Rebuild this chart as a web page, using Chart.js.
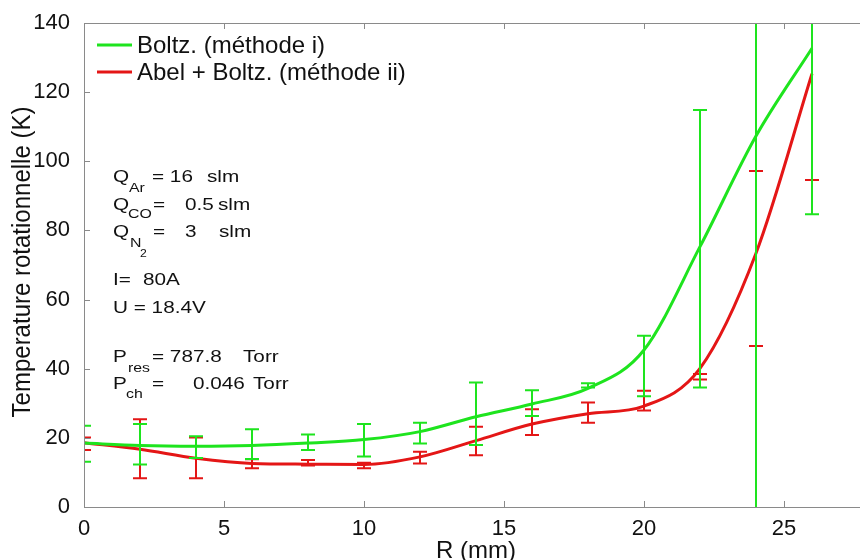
<!DOCTYPE html>
<html>
<head>
<meta charset="utf-8">
<script src="https://cdn.jsdelivr.net/npm/chart.js@4.4.1/dist/chart.umd.min.js"></script>
<style>
  html, body { margin: 0; padding: 0; background: #fff; overflow: hidden; }
  #wrap { width: 860px; height: 560px; overflow: hidden; }
</style>
</head>
<body>
<div id="wrap"><canvas id="tempChart" width="880" height="560"></canvas></div>
<script>
// R (mm)
const radius = [0, 2, 4, 6, 8, 10, 12, 14, 16, 18, 20, 22, 24, 26];

// Boltz. (méthode i)
const boltzT    = [18.5, 17.8, 17.6, 17.8, 18.5, 19.5, 21.8, 26.1, 29.8, 34.3, 45.4, 75.3, 107.3, 132.7];
const boltzLow  = [13.1, 12.3, 14.2, 13.9, 16.5, 14.6, 18.4, 17.9, 26.3, 34.6, 32.0, 34.6, -2, 84.7];
const boltzHigh = [23.5, 24.0, 20.5, 22.5, 21.0, 24.0, 24.4, 36.0, 33.8, 35.8, 49.5, 114.8, 215, 180];

// Abel + Boltz. (méthode ii)
const abelT    = [18.6, 16.7, 14.1, 12.6, 12.4, 12.3, 14.5, 19.2, 24.0, 27.0, 29.2, 40.1, 73.4, 125.3];
const abelLow  = [16.5, 8.3, 8.3, 11.2, 12.0, 11.2, 12.6, 15.0, 20.8, 24.4, 27.9, 36.9, 46.6, 94.6];
const abelHigh = [20.1, 25.4, 20.1, 13.8, 13.6, 12.8, 16.0, 23.2, 28.3, 30.2, 33.6, 38.5, 97.2, 156];

const xTicks = [0, 5, 10, 15, 20, 25];
const yTicks = [0, 20, 40, 60, 80, 100, 120, 140];

const xTitle = 'R (mm)';
const yTitle = 'Temperature rotationnelle (K)';

const GREEN = 'rgb(30,228,30)';
const RED = 'rgb(228,22,22)';
const AXIS = '#8a8a8a';
const INK = '#111';
const FONT = '"Liberation Sans", Arial, sans-serif';

const toPts = (ys) => radius.map((r, i) => ({ x: r, y: ys[i] }));

// error bars drawn through the scales (red first, green on top)
const errorBars = {
    id: 'errorBars',
    afterDatasetsDraw(chart) {
        const { ctx, chartArea: a, scales: { x, y } } = chart;
        const sets = [[abelLow, abelHigh, RED], [boltzLow, boltzHigh, GREEN]];
        ctx.save();
        ctx.beginPath();
        ctx.rect(a.left, a.top, a.right - a.left, a.bottom - a.top);
        ctx.clip();
        ctx.lineWidth = 2;
        sets.forEach(([lo, hi, col]) => {
            ctx.strokeStyle = col;
            radius.forEach((r, i) => {
                const px = x.getPixelForValue(r);
                const p1 = y.getPixelForValue(lo[i]);
                const p2 = y.getPixelForValue(hi[i]);
                ctx.beginPath();
                ctx.moveTo(px, p1); ctx.lineTo(px, p2);
                ctx.moveTo(px - 7, p1); ctx.lineTo(px + 7, p1);
                ctx.moveTo(px - 7, p2); ctx.lineTo(px + 7, p2);
                ctx.stroke();
            });
        });
        ctx.restore();
    }
};

// box, inward ticks, axis titles, legend and annotation text
const decor = {
    id: 'decor',
    afterDraw(chart) {
        const { ctx, chartArea: a, scales: { x, y } } = chart;
        ctx.save();
        ctx.strokeStyle = AXIS;
        ctx.lineWidth = 1;
        ctx.strokeRect(a.left + 0.5, a.top + 0.5, a.right - a.left, a.bottom - a.top);
        ctx.beginPath();
        xTicks.forEach(v => {
            const px = Math.round(x.getPixelForValue(v)) + 0.5;
            ctx.moveTo(px, a.bottom); ctx.lineTo(px, a.bottom - 6);
            ctx.moveTo(px, a.top); ctx.lineTo(px, a.top + 6);
        });
        yTicks.forEach(v => {
            const py = Math.round(y.getPixelForValue(v)) + 0.5;
            ctx.moveTo(a.left, py); ctx.lineTo(a.left + 6, py);
            ctx.moveTo(a.right, py); ctx.lineTo(a.right - 6, py);
        });
        ctx.stroke();

        ctx.fillStyle = INK;
        // axis titles
        ctx.textAlign = 'center';
        ctx.textBaseline = 'alphabetic';
        ctx.font = '24px ' + FONT;
        ctx.fillText(xTitle, 476, 558);
        ctx.save();
        ctx.translate(30, 262);
        ctx.rotate(-Math.PI / 2);
        ctx.scale(1, 1.1);
        ctx.font = '24px ' + FONT;
        ctx.fillText(yTitle, 0, 0);
        ctx.restore();

        // legend
        ctx.textBaseline = 'middle';
        ctx.textAlign = 'left';
        ctx.font = '24px ' + FONT;
        chart.data.datasets.forEach((ds, i) => {
            const ly = 45 + i * 27;
            ctx.strokeStyle = ds.borderColor;
            ctx.lineWidth = 3;
            ctx.beginPath();
            ctx.moveTo(97, ly); ctx.lineTo(132, ly);
            ctx.stroke();
            ctx.fillText(ds.label, 137, ly + 1);
        });

        // conditions
        ctx.textBaseline = 'alphabetic';
        const runs = [
            ['Q', 113, 182, 17], ['Ar', 129, 192, 13], ['= 16', 152, 182, 17], ['slm', 207, 182, 17],
            ['Q', 113, 210, 17], ['CO', 128, 218, 13], ['=', 153, 210, 17], ['0.5', 185, 210, 17], ['slm', 218, 210, 17],
            ['Q', 113, 237, 17], ['N', 130, 247, 13], ['2', 140, 257, 10], ['=', 153, 237, 17], ['3', 185, 237, 17], ['slm', 219, 237, 17],
            ['I=', 113, 285, 17], ['80A', 143, 285, 17],
            ['U = 18.4V', 113, 313, 17],
            ['P', 113, 362, 17], ['res', 128, 372, 13], ['= 787.8', 152, 362, 17], ['Torr', 243, 362, 17],
            ['P', 113, 389, 17], ['ch', 126, 398, 13], ['=', 152, 389, 17], ['0.046', 193, 389, 17], ['Torr', 253, 389, 17]
        ];
        runs.forEach(([t, tx, ty, s]) => {
            ctx.save();
            ctx.translate(tx, ty);
            ctx.scale(1.22, 1);
            ctx.font = s + 'px ' + FONT;
            ctx.fillText(t, 0, 0);
            ctx.restore();
        });
        ctx.restore();
    }
};

var ctx = document.getElementById('tempChart').getContext('2d');
var tempChart = new Chart(ctx, {
    type: 'line',
    data: {
        datasets: [{
            label: 'Boltz. (méthode i)',
            data: toPts(boltzT),
            borderColor: GREEN,
            borderWidth: 3,
            pointRadius: 0,
            cubicInterpolationMode: 'monotone',
            fill: false
        }, {
            label: 'Abel + Boltz. (méthode ii)',
            data: toPts(abelT),
            borderColor: RED,
            borderWidth: 3,
            pointRadius: 0,
            cubicInterpolationMode: 'monotone',
            fill: false
        }]
    },
    options: {
        responsive: false,
        animation: false,
        devicePixelRatio: 1,
        layout: { padding: { top: 23, right: 12, left: 0, bottom: 0 } },
        plugins: { legend: { display: false }, tooltip: { enabled: false } },
        scales: {
            x: {
                type: 'linear', min: 0, max: 28,
                grid: { display: false },
                border: { display: false },
                afterBuildTicks: s => { s.ticks = xTicks.map(v => ({ value: v })); },
                afterFit: s => { s.height = 53; },
                ticks: { font: { family: FONT, size: 22 }, color: INK, padding: 1, maxRotation: 0 }
            },
            y: {
                type: 'linear', min: 0, max: 140,
                grid: { display: false },
                border: { display: false },
                afterBuildTicks: s => { s.ticks = yTicks.map(v => ({ value: v })); },
                afterFit: s => { s.width = 84; },
                ticks: { font: { family: FONT, size: 22 }, color: INK, padding: 6 }
            }
        }
    },
    plugins: [errorBars, decor]
});
</script>
</body>
</html>
